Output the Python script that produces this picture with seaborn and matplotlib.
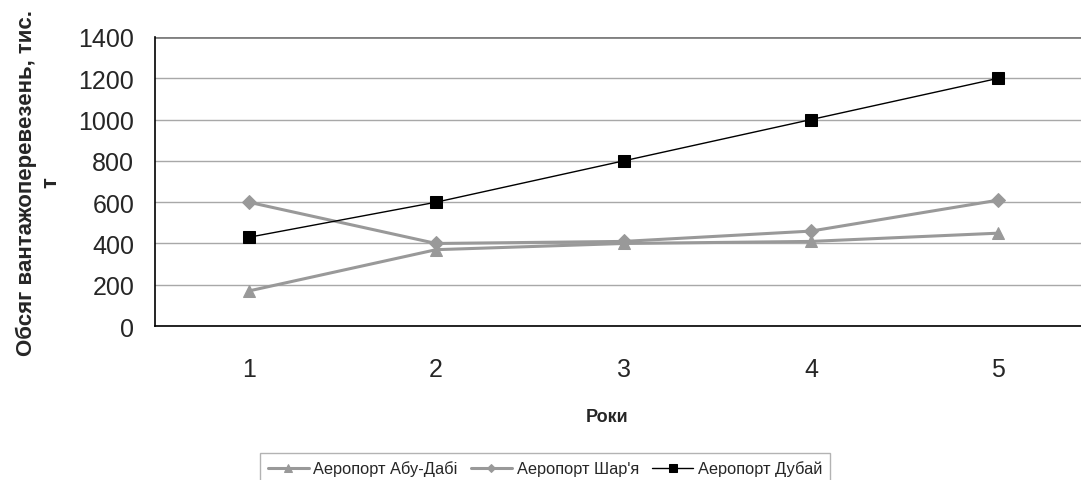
import matplotlib
matplotlib.use('Agg')
import matplotlib.pyplot as plt
import seaborn as sns
import pandas as pd

# Data
years = [1, 2, 3, 4, 5]
abu_dhabi = [170, 370, 400, 410, 450]
sharjah = [600, 400, 410, 460, 610]
dubai = [430, 600, 800, 1000, 1200]
series_names = ['Аеропорт Абу-Дабі', "Аеропорт Шар'я", 'Аеропорт Дубай']

df = pd.DataFrame({
    'year': years * 3,
    'value': abu_dhabi + sharjah + dubai,
    'series': [series_names[0]] * 5 + [series_names[1]] * 5 + [series_names[2]] * 5,
})

sns.set_style('white')
plt.rcParams['font.family'] = ['Liberation Sans', 'DejaVu Sans']

fig = plt.figure(figsize=(10.81, 4.81), dpi=100)
ax = fig.add_axes([0.1434, 0.320, 0.8668, 0.601])

grey = '#999999'
palette = {series_names[0]: grey, series_names[1]: grey, series_names[2]: 'black'}
markers = {series_names[0]: '^', series_names[1]: 'D', series_names[2]: 's'}
widths = {series_names[0]: 2.2, series_names[1]: 2.2, series_names[2]: 1.0}
msizes = {series_names[0]: 8.5, series_names[1]: 7, series_names[2]: 8.5}

for name in series_names:
    sub = df[df['series'] == name]
    sns.lineplot(data=sub, x='year', y='value', ax=ax, color=palette[name],
                 marker=markers[name], markersize=msizes[name], linewidth=widths[name],
                 markeredgecolor=palette[name], label=name, zorder=3)

ax.set_xlim(0.5, 5.5)
ax.set_ylim(0, 1400)
ax.set_yticks(range(0, 1401, 200))
ax.set_xticks(years)
ax.set_xticks([0.5, 1.5, 2.5, 3.5, 4.5, 5.5], minor=True)
ax.tick_params(axis='x', which='major', length=0, labelsize=18, pad=22)
ax.tick_params(axis='x', which='minor', length=6, width=1, color='black', direction='out')
ax.tick_params(axis='y', length=5, width=1, color='black', direction='out', labelsize=18, pad=10)

ax.grid(axis='y', color='#a8a8a8', linewidth=1)
ax.axhline(1400, color='#808080', linewidth=2, zorder=1)
ax.set_axisbelow(True)
for s in ['top', 'right']:
    ax.spines[s].set_visible(False)
ax.spines['left'].set_color('black')
ax.spines['left'].set_linewidth(1.2)
ax.spines['bottom'].set_color('black')
ax.spines['bottom'].set_linewidth(1.2)

ax.set_xlabel('Роки', fontsize=13, fontweight='bold')
ax.xaxis.set_label_coords(0.482, -0.285)
ax.set_ylabel('Обсяг вантажоперевезень, тис.\nт', fontsize=16, fontweight='bold',
              labelpad=12, linespacing=1.25)

ax.legend(loc='upper left', bbox_to_anchor=(252 / 1081, 1 - 446 / 481),
          bbox_transform=fig.transFigure, ncol=3, frameon=True, fancybox=False,
          edgecolor='#a0a0a0', fontsize=11.8, handlelength=2.5, columnspacing=0.8,
          handletextpad=0.3, borderpad=0.45, markerscale=0.6)

plt.savefig('out.png', dpi=100)
